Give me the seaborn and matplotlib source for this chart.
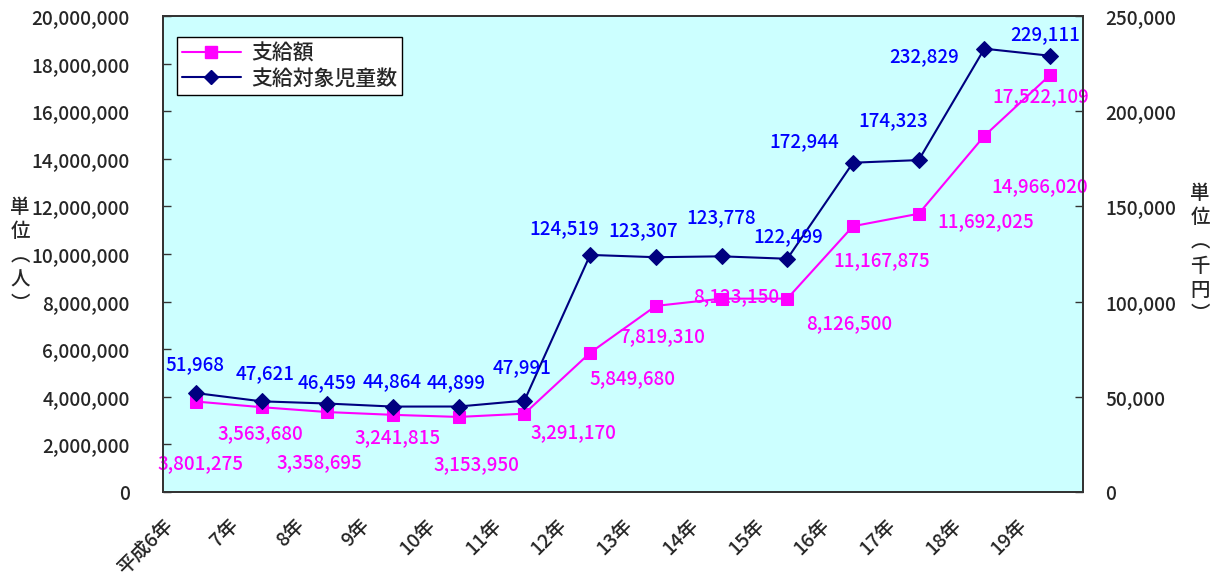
import numpy as np
import pandas as pd
import matplotlib
matplotlib.use("Agg")
import matplotlib.pyplot as plt
import matplotlib.transforms as mtransforms
from matplotlib.ticker import FuncFormatter, MultipleLocator
from matplotlib.lines import Line2D
import seaborn as sns

# ---- data ----
years = ["平成6年", "7年", "8年", "9年", "10年", "11年", "12年", "13年",
         "14年", "15年", "16年", "17年", "18年", "19年"]
amount = [3801275, 3563680, 3358695, 3241815, 3153950, 3291170, 5849680,
          7819310, 8123150, 8126500, 11167875, 11692025, 14966020, 17522109]
children = [51968, 47621, 46459, 44864, 44899, 47991, 124519, 123307,
            123778, 122499, 172944, 174323, 232829, 229111]
amount_name = "支給額"
children_name = "支給対象児童数"
left_label = "単位︵人︶"
right_label = "単位︵千円︶"

# label offsets (pixels, dx right, dy up) relative to each point
amount_off = [(5, -62), (-1, -26), (-8, -51), (5, -23), (18, -48), (49, -19),
              (42, -26), (6, -31), (15, 2), (62, -25), (29, -34), (67, -8),
              (55, -51), (-9, -22)]
children_off = [(-1, 28), (4, 28), (0, 21), (-1, 25), (-3, 24), (-2, 33),
                (-26, 26), (-13, 27), (0, 39), (1, 22), (-49, 21), (-26, 40),
                (-60, -8), (-5, 21)]

PINK = "#FF00FF"
NAVY = "#000080"
BLUE = "#0000FF"
BG = "#CCFFFF"
FW = "medium"

sns.set_style("white")
plt.rcParams["font.family"] = ["Noto Sans CJK JP", "DejaVu Sans"]

fig = plt.figure(figsize=(12.17, 5.76), dpi=100)
ax = fig.add_axes([163 / 1217, 1 - 492 / 576, (1083 - 163) / 1217, (492 - 16) / 576])
ax.set_facecolor(BG)
ax2 = ax.twinx()

idx = np.arange(len(years))
df = pd.DataFrame({"x": idx, "amount": amount, "children": children})

sns.lineplot(data=df, x="x", y="amount", ax=ax, color=PINK, marker="s",
             markersize=9, markeredgecolor=PINK, linewidth=1.5)
sns.lineplot(data=df, x="x", y="children", ax=ax2, color=NAVY, marker="D",
             markersize=8, markeredgecolor=NAVY, linewidth=1.5)

ax.set_xlim(-0.5, len(years) - 0.5)
ax.set_ylim(0, 20000000)
ax2.set_ylim(0, 250000)
ax.yaxis.set_major_locator(MultipleLocator(2000000))
ax2.yaxis.set_major_locator(MultipleLocator(50000))
fmt = FuncFormatter(lambda v, p: f"{int(round(v)):,}")
ax.yaxis.set_major_formatter(fmt)
ax2.yaxis.set_major_formatter(fmt)

ax.set_xticks(idx - 0.5)
ax.set_xticklabels(years, rotation=45, ha="right", va="top",
                   rotation_mode="anchor", fontsize=14, fontweight=FW)
offset = mtransforms.ScaledTranslation(15 / 100, 0, fig.dpi_scale_trans)
for lab in ax.get_xticklabels():
    lab.set_transform(lab.get_transform() + offset)
for lab in ax.get_yticklabels() + ax2.get_yticklabels():
    lab.set_fontweight(FW)

ax.tick_params(axis="x", direction="in", length=6, width=1, color="#333333", pad=17)
ax.tick_params(axis="y", direction="in", length=6, width=1, color="#333333",
               labelsize=13.7, pad=24)
ax2.tick_params(axis="y", direction="in", length=6, width=1, color="#333333",
                labelsize=13.7, pad=16)
for a in (ax, ax2):
    a.set_xlabel("")
    a.set_ylabel("")
    for s in a.spines.values():
        s.set_visible(True)
        s.set_color("#333333")
        s.set_linewidth(1.3)

fig.text(20 / 1217, 1 - 256 / 576, "\n".join(left_label), ha="center", va="center",
         fontsize=14, linespacing=1.35, fontweight=FW)
fig.text(1200 / 1217, 1 - 254 / 576, "\n".join(right_label), ha="center", va="center",
         fontsize=14, linespacing=1.35, fontweight=FW)

for i, (v, (dx, dy)) in enumerate(zip(amount, amount_off)):
    ax.annotate(f"{v:,}", (idx[i], v), xytext=(dx, dy), textcoords="offset pixels",
                ha="center", va="center", color=PINK, fontsize=13.5, fontweight=FW,
                zorder=5, annotation_clip=False)
for i, (v, (dx, dy)) in enumerate(zip(children, children_off)):
    ax2.annotate(f"{v:,}", (idx[i], v), xytext=(dx, dy), textcoords="offset pixels",
                 ha="center", va="center", color=BLUE, fontsize=13.5, fontweight=FW,
                 zorder=5, annotation_clip=False)

handles = [
    Line2D([], [], color=PINK, marker="s", markersize=8, linewidth=1.5),
    Line2D([], [], color=NAVY, marker="D", markersize=7, linewidth=1.5),
]
leg = ax2.legend(handles, [amount_name, children_name], loc="upper left",
                 bbox_to_anchor=(14 / 920, 1 - 21 / 476),
                 prop={"size": 15, "weight": FW},
                 frameon=True, fancybox=False, edgecolor="#000000",
                 framealpha=1, borderpad=0.25, labelspacing=0.15,
                 handlelength=2.8, handletextpad=0.5, borderaxespad=0)
leg.get_frame().set_linewidth(1.0)

fig.savefig("out.png", dpi=100)
